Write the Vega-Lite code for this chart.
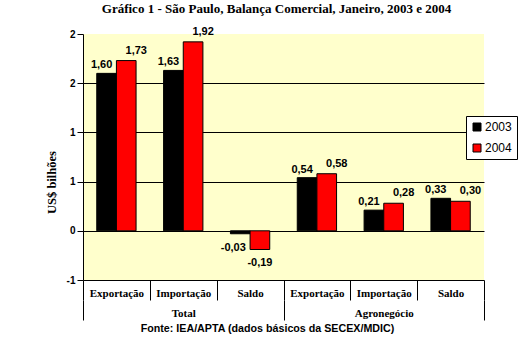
{
  "$schema": "https://vega.github.io/schema/vega-lite/v6.json",
  "width": 401,
  "height": 246,
  "autosize": {"type": "none"},
  "padding": {"left": 83, "top": 34, "right": 44, "bottom": 67},
  "background": "white",
  "title": {
    "text": "Gráfico 1 - São Paulo, Balança Comercial, Janeiro, 2003 e 2004",
    "font": "Liberation Serif",
    "fontSize": 13,
    "fontWeight": "bold",
    "color": "black",
    "anchor": "middle",
    "frame": "group",
    "offset": 10,
    "dx": -7
  },
  "config": {
    "view": {"fill": "#FFFFCC", "stroke": null},
    "axis": {"domainColor": "black", "tickColor": "black", "labelColor": "black", "titleColor": "black"}
  },
  "data": {
    "values": [
      {"grupo": "Total", "chave": "T-Exportação", "ano": "2003", "valor": 1.60, "rotulo": "1,60"},
      {"grupo": "Total", "chave": "T-Exportação", "ano": "2004", "valor": 1.73, "rotulo": "1,73"},
      {"grupo": "Total", "chave": "T-Importação", "ano": "2003", "valor": 1.63, "rotulo": "1,63"},
      {"grupo": "Total", "chave": "T-Importação", "ano": "2004", "valor": 1.92, "rotulo": "1,92"},
      {"grupo": "Total", "chave": "T-Saldo", "ano": "2003", "valor": -0.03, "rotulo": "-0,03"},
      {"grupo": "Total", "chave": "T-Saldo", "ano": "2004", "valor": -0.19, "rotulo": "-0,19"},
      {"grupo": "Agronegócio", "chave": "A-Exportação", "ano": "2003", "valor": 0.54, "rotulo": "0,54"},
      {"grupo": "Agronegócio", "chave": "A-Exportação", "ano": "2004", "valor": 0.58, "rotulo": "0,58"},
      {"grupo": "Agronegócio", "chave": "A-Importação", "ano": "2003", "valor": 0.21, "rotulo": "0,21"},
      {"grupo": "Agronegócio", "chave": "A-Importação", "ano": "2004", "valor": 0.28, "rotulo": "0,28"},
      {"grupo": "Agronegócio", "chave": "A-Saldo", "ano": "2003", "valor": 0.33, "rotulo": "0,33"},
      {"grupo": "Agronegócio", "chave": "A-Saldo", "ano": "2004", "valor": 0.30, "rotulo": "0,30"}
    ]
  },
  "layer": [
    {
      "layer": [
        {
          "mark": {"type": "bar", "stroke": "black", "strokeWidth": 1},
          "encoding": {
            "x": {
              "field": "chave", "type": "nominal",
              "sort": ["T-Exportação", "T-Importação", "T-Saldo", "A-Exportação", "A-Importação", "A-Saldo"],
              "scale": {"paddingInner": 0, "paddingOuter": 0},
              "axis": {
                "orient": "bottom", "title": null, "labelAngle": 0,
                "labelExpr": "slice(datum.label, 2)",
                "domain": true, "domainColor": "black", "ticks": true, "tickBand": "extent",
                "tickSize": 20, "tickColor": "black", "labelPadding": -13,
                "labelFont": "Liberation Serif", "labelFontSize": 11, "labelFontWeight": "bold",
                "grid": false
              }
            },
            "xOffset": {"field": "ano", "type": "nominal", "scale": {"paddingOuter": 0.7, "paddingInner": 0}},
            "y": {
              "field": "valor", "type": "quantitative",
              "scale": {"domain": [-0.5, 2], "nice": false, "zero": false},
              "axis": {
                "values": [-0.5, 0, 0.5, 1, 1.5, 2],
                "labelExpr": "datum.value == 1.5 ? '2' : datum.value == 0.5 ? '1' : datum.value == -0.5 ? '-1' : toString(datum.value)",
                "title": "US$ bilhões",
                "titleFont": "Liberation Serif", "titleFontSize": 12.5, "titleFontWeight": "bold",
                "titlePadding": 8, "titleY": 148,
                "labelFont": "Liberation Sans", "labelFontSize": 10, "labelFontWeight": "bold", "labelPadding": 2,
                "tickSize": 6, "tickColor": "black", "domainColor": "black",
                "grid": true,
                "gridColor": {"condition": {"test": "datum.value == 2 || datum.value == -0.5", "value": "transparent"}, "value": "black"},
                "gridOpacity": 1
              }
            },
            "color": {
              "field": "ano", "type": "nominal",
              "scale": {"domain": ["2003", "2004"], "range": ["#000000", "#FF0000"]},
              "legend": {
                "title": null, "orient": "none", "legendX": 383, "legendY": 82,
                "fillColor": "white", "strokeColor": "black", "padding": 5,
                "labelFont": "Liberation Sans", "labelFontSize": 12, "labelColor": "black",
                "symbolType": "square", "symbolSize": 64, "symbolStrokeColor": "black", "symbolStrokeWidth": 1,
                "rowPadding": 9, "labelOffset": 2, "cornerRadius": 0
              }
            }
          }
        },
        {
          "transform": [{"filter": "datum.valor >= 0 && datum.ano == '2003'"}],
          "mark": {"type": "text", "baseline": "alphabetic", "dy": -5, "dx": -5, "font": "Liberation Sans", "fontSize": 11, "fontWeight": "bold", "color": "black"},
          "encoding": {
            "x": {"field": "chave", "type": "nominal", "sort": ["T-Exportação", "T-Importação", "T-Saldo", "A-Exportação", "A-Importação", "A-Saldo"]},
            "xOffset": {"field": "ano", "type": "nominal"},
            "y": {"field": "valor", "type": "quantitative"},
            "text": {"field": "rotulo"}
          }
        },
        {
          "transform": [{"filter": "datum.valor >= 0 && datum.ano == '2004'"}],
          "mark": {"type": "text", "baseline": "alphabetic", "dy": -7, "dx": 10, "font": "Liberation Sans", "fontSize": 11, "fontWeight": "bold", "color": "black"},
          "encoding": {
            "x": {"field": "chave", "type": "nominal", "sort": ["T-Exportação", "T-Importação", "T-Saldo", "A-Exportação", "A-Importação", "A-Saldo"]},
            "xOffset": {"field": "ano", "type": "nominal"},
            "y": {"field": "valor", "type": "quantitative"},
            "text": {"field": "rotulo"}
          }
        },
        {
          "transform": [{"filter": "datum.valor < 0 && datum.ano == '2003'"}],
          "mark": {"type": "text", "baseline": "alphabetic", "dy": 17, "dx": -7, "font": "Liberation Sans", "fontSize": 11, "fontWeight": "bold", "color": "black"},
          "encoding": {
            "x": {"field": "chave", "type": "nominal", "sort": ["T-Exportação", "T-Importação", "T-Saldo", "A-Exportação", "A-Importação", "A-Saldo"]},
            "xOffset": {"field": "ano", "type": "nominal"},
            "y": {"field": "valor", "type": "quantitative"},
            "text": {"field": "rotulo"}
          }
        },
        {
          "transform": [{"filter": "datum.valor < 0 && datum.ano == '2004'"}],
          "mark": {"type": "text", "baseline": "alphabetic", "dy": 17, "dx": 0, "font": "Liberation Sans", "fontSize": 11, "fontWeight": "bold", "color": "black"},
          "encoding": {
            "x": {"field": "chave", "type": "nominal", "sort": ["T-Exportação", "T-Importação", "T-Saldo", "A-Exportação", "A-Importação", "A-Saldo"]},
            "xOffset": {"field": "ano", "type": "nominal"},
            "y": {"field": "valor", "type": "quantitative"},
            "text": {"field": "rotulo"}
          }
        }
      ]
    },
    {
      "mark": {"type": "rule", "opacity": 0},
      "encoding": {
        "x": {
          "field": "grupo", "type": "nominal", "sort": ["Total", "Agronegócio"],
          "scale": {"paddingInner": 0, "paddingOuter": 0},
          "axis": {
            "orient": "bottom", "offset": 20, "domain": false, "ticks": true, "tickBand": "extent",
            "tickSize": 20, "tickColor": "black", "labelPadding": -13, "labelAngle": 0,
            "labelFont": "Liberation Serif", "labelFontSize": 11, "labelFontWeight": "bold",
            "title": "Fonte: IEA/APTA (dados básicos da SECEX/MDIC)",
            "titleFont": "Liberation Sans", "titleFontSize": 10.7, "titleFontWeight": "bold",
            "titlePadding": 3, "titleX": 184,
            "grid": false
          }
        }
      }
    }
  ],
  "resolve": {"scale": {"x": "independent"}}
}
